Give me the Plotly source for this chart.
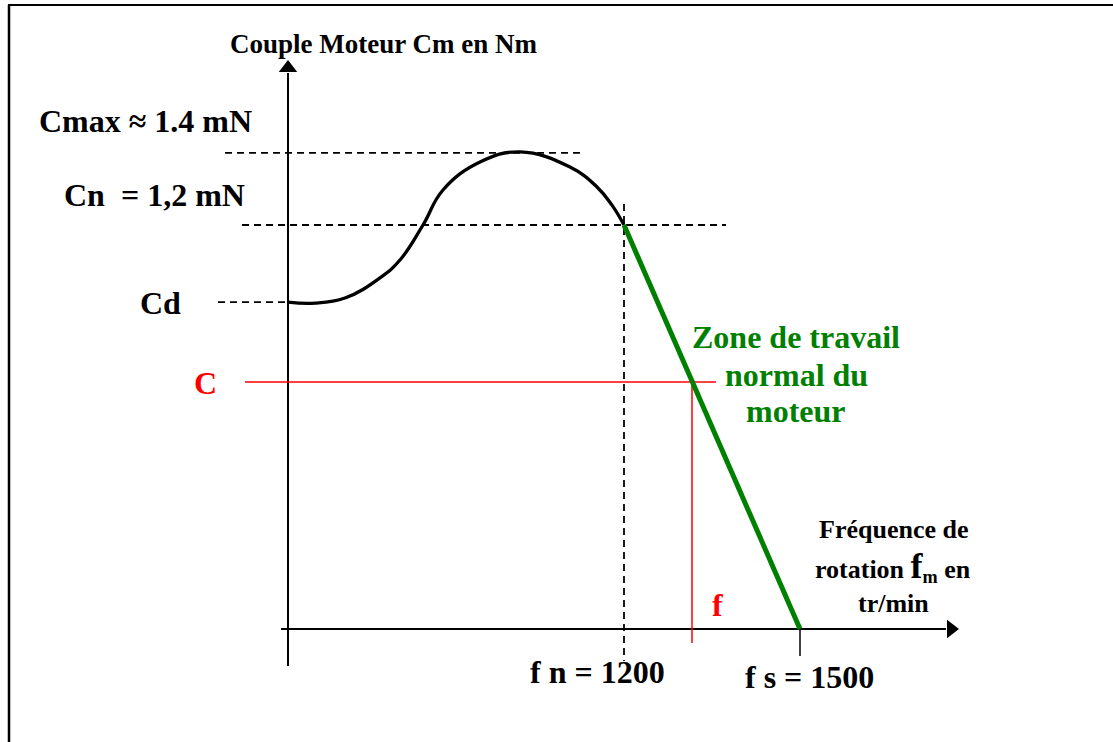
import plotly.graph_objects as go

# ---- data (schematic units: x = position along frequency axis, y = torque in mN) ----
curve_x = [0.0, 0.27, 0.57, 0.92, 1.12, 1.35, 1.55, 1.92, 2.32, 2.82, 3.09, 3.24, 3.36]
curve_y = [0.971, 0.968, 0.983, 1.043, 1.096, 1.200, 1.304, 1.387, 1.417, 1.372, 1.313, 1.259, 1.200]
zone_x = [3.36, 5.12]          # fn -> fs
zone_y = [1.200, 0.0]
C_max, C_n, C_d, C_op = 1.414, 1.200, 0.971, 0.734
x_fn, x_fs, x_op = 3.36, 5.12, 4.04

W, H = 1113, 742
X0, Y0, KX, KY = 288, 629, 100.0, 336.67   # page position of origin and scale


def P(px, py):
    return px / W, 1 - py / H


def ux(px):
    return (px - X0) / KX


def uy(py):
    return (Y0 - py) / KY


fig = go.Figure()
line = dict(color="black", width=1.8, dash="7px,5px")


def seg(x, y, **kw):
    fig.add_trace(go.Scatter(x=x, y=y, mode="lines", line=kw, hoverinfo="skip", showlegend=False))


# axes
seg([ux(281), ux(946)], [0, 0], color="black", width=2)
seg([0, 0], [uy(666), uy(73)], color="black", width=2)
fig.add_trace(go.Scatter(x=[ux(951)], y=[0], mode="markers",
                         marker=dict(symbol="triangle-right", size=16, color="black"),
                         hoverinfo="skip", showlegend=False))
fig.add_trace(go.Scatter(x=[0], y=[uy(68)], mode="markers",
                         marker=dict(symbol="triangle-up", size=16, color="black"),
                         hoverinfo="skip", showlegend=False))

# dashed guides
seg([ux(225), ux(582)], [C_max, C_max], **line)
seg([ux(242), ux(726)], [C_n, C_n], **line)
seg([ux(218), 0], [C_d, C_d], **line)
seg([x_fn, x_fn], [uy(204), uy(661)], **line)

# red operating point
seg([ux(245), ux(716)], [C_op, C_op], color="red", width=1.5)
seg([x_op, x_op], [C_op, uy(643)], color="red", width=1.5)

# tick at fs
seg([x_fs, x_fs], [0, uy(656)], color="black", width=1.5)

# characteristic curve
fig.add_trace(go.Scatter(x=curve_x, y=curve_y, mode="lines",
                         line=dict(color="black", width=3.3, shape="spline", smoothing=1.2),
                         hoverinfo="skip", showlegend=False))
fig.add_trace(go.Scatter(x=zone_x, y=zone_y, mode="lines", line=dict(color="#008000", width=5),
                         hoverinfo="skip", showlegend=False))

font = "Liberation Serif"


def txt(s, px, py, size, color="black", align="center", xanchor="center"):
    x, y = P(px, py)
    fig.add_annotation(x=x, y=y, xref="paper", yref="paper", text=s, showarrow=False,
                       font=dict(family=font, size=size, color=color), align=align,
                       xanchor=xanchor, yanchor="middle")


txt("<b>Couple Moteur Cm en Nm</b>", 383, 44, 27)
txt("<b>Cmax ≈ 1.4 mN</b>", 145, 121, 32)
txt("<b>Cn  = 1,2 mN</b>", 154, 195, 32)
txt("<b>Cd</b>", 160, 303, 32)
txt("<b>C</b>", 205, 383, 32, color="red")
txt("<b>f</b>", 717, 605, 32, color="red")
txt("<b>Zone de travail</b>", 796, 337, 32, color="#008000")
txt("<b>normal du</b>", 796, 375, 32, color="#008000")
txt("<b>moteur</b>", 796, 411, 32, color="#008000")
txt("<b>Fréquence de</b>", 893, 529, 26)
txt("<b>rotation <span style='font-size:36px'>f</span><sub>m</sub> en</b>", 893, 566, 26)
txt("<b>tr/min</b>", 893, 603, 26)
txt("<b>f n = 1200</b>", 597, 672, 32)
txt("<b>f s = 1500</b>", 809, 677, 32)

# frame
fig.add_shape(type="line", xref="paper", yref="paper", x0=8 / W, x1=1, y0=1 - 5 / H, y1=1 - 5 / H,
              line=dict(color="black", width=2))
fig.add_shape(type="line", xref="paper", yref="paper", x0=9 / W, x1=9 / W, y0=0, y1=1 - 5 / H,
              line=dict(color="black", width=2.5))

fig.update_layout(
    width=W, height=H, margin=dict(l=0, r=0, t=0, b=0),
    paper_bgcolor="white", plot_bgcolor="white", showlegend=False,
    xaxis=dict(range=[ux(0), ux(W)], visible=False, fixedrange=True),
    yaxis=dict(range=[uy(H), uy(0)], visible=False, fixedrange=True),
)
fig.write_html("out.html", config={"displayModeBar": False},
               post_script="document.body.style.margin='0';")
